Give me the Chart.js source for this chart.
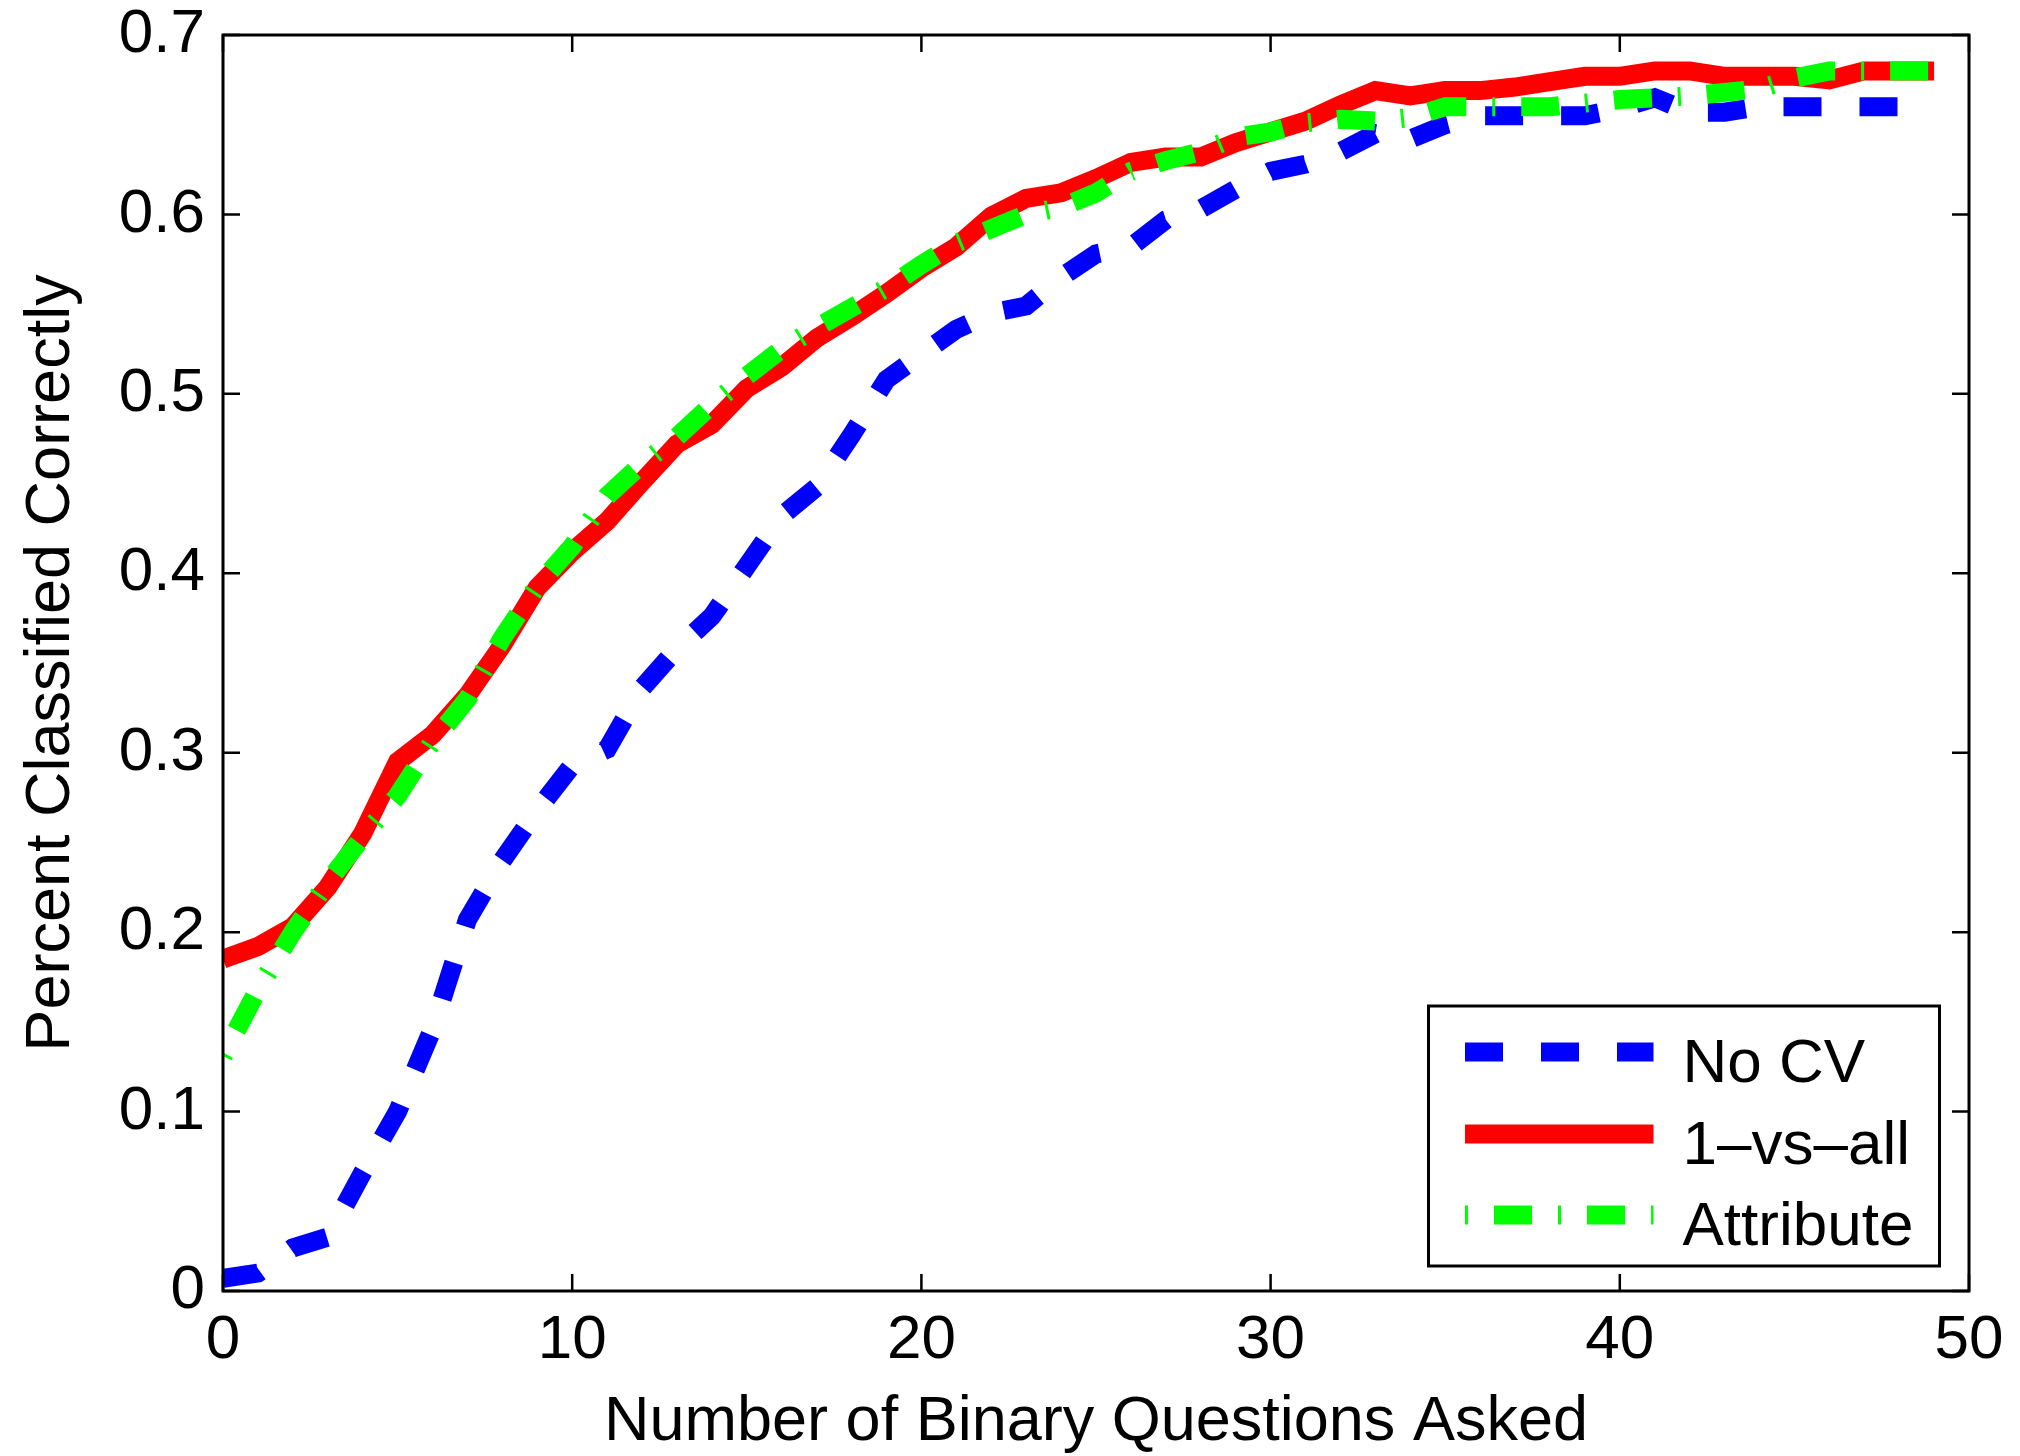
<!DOCTYPE html>
<html>
<head>
<meta charset="utf-8">
<script src="https://cdn.jsdelivr.net/npm/chart.js@4.4.1/dist/chart.umd.min.js"></script>
<style>
	html, body { margin: 0; padding: 0; background: #fff; }
	canvas { display: block; }
</style>
</head>
<body>
<canvas id="myChart" width="2020" height="1456"></canvas>
<script>
/* globals Chart:false */
// số câu hỏi nhị phân -> tỉ lệ phân loại đúng
const questions = [
	0, 1, 2, 3, 4, 5, 6, 7, 8, 9,
	10, 11, 12, 13, 14, 15, 16, 17, 18, 19,
	20, 21, 22, 23, 24, 25, 26, 27, 28, 29,
	30, 31, 32, 33, 34, 35, 36, 37, 38, 39,
	40, 41, 42, 43, 44, 45, 46, 47, 48, 49,
];
const noCv = [
	0.007, 0.010, 0.024, 0.030, 0.066, 0.100, 0.146, 0.207, 0.240, 0.268,
	0.293, 0.302, 0.336, 0.358, 0.376, 0.404, 0.432, 0.448, 0.477, 0.508,
	0.522, 0.536, 0.545, 0.549, 0.565, 0.578, 0.582, 0.597, 0.603, 0.614,
	0.624, 0.628, 0.635, 0.645, 0.642, 0.650, 0.655, 0.655, 0.655, 0.655,
	0.659, 0.665, 0.657, 0.657, 0.660, 0.660, 0.660, 0.660, 0.660, 0.660,
];
const oneVsAll = [
	0.185, 0.192, 0.203, 0.225, 0.255, 0.295, 0.310, 0.332, 0.360, 0.392,
	0.412, 0.429, 0.451, 0.472, 0.483, 0.503, 0.515, 0.531, 0.543, 0.556,
	0.570, 0.582, 0.599, 0.609, 0.612, 0.620, 0.629, 0.632, 0.632, 0.640,
	0.646, 0.652, 0.661, 0.669, 0.666, 0.669, 0.669, 0.671, 0.674, 0.677,
	0.677, 0.680, 0.680, 0.677, 0.677, 0.677, 0.675, 0.680, 0.680, 0.680,
];
const attribute = [
	0.131, 0.168, 0.200, 0.228, 0.253, 0.276, 0.306, 0.330, 0.364, 0.393,
	0.415, 0.443, 0.461, 0.476, 0.494, 0.510, 0.525, 0.537, 0.548, 0.559,
	0.572, 0.584, 0.592, 0.600, 0.604, 0.612, 0.624, 0.630, 0.635, 0.643,
	0.646, 0.651, 0.653, 0.652, 0.654, 0.660, 0.660, 0.660, 0.660, 0.662,
	0.664, 0.665, 0.666, 0.668, 0.670, 0.676, 0.680, 0.680, 0.680, 0.680,
];
const seriesNames = ["No CV", "1\u2013vs\u2013all", "Attribute"];
const xTicks = [0, 10, 20, 30, 40, 50];
const yTicks = [0, 0.1, 0.2, 0.3, 0.4, 0.5, 0.6, 0.7];

(() => {
	"use strict";

	const FONT = "Arial, 'Liberation Sans', Helvetica, sans-serif";
	const points = (vals) => vals.map((v, i) => ({ x: questions[i], y: v }));

	// khung trục + vạch chia hướng vào trong (kiểu MATLAB)
	const axesBox = {
		id: "axesBox",
		afterDatasetsDraw(chart) {
			const { ctx, chartArea: a, scales } = chart;
			const tl = 17;
			ctx.save();
			ctx.strokeStyle = "#000";
			ctx.lineWidth = 2.5;
			ctx.beginPath();
			xTicks.forEach((v) => {
				const px = scales.x.getPixelForValue(v);
				ctx.moveTo(px, a.bottom);
				ctx.lineTo(px, a.bottom - tl);
				ctx.moveTo(px, a.top);
				ctx.lineTo(px, a.top + tl);
			});
			yTicks.forEach((v) => {
				const py = scales.y.getPixelForValue(v);
				ctx.moveTo(a.left, py);
				ctx.lineTo(a.left + tl, py);
				ctx.moveTo(a.right, py);
				ctx.lineTo(a.right - tl, py);
			});
			ctx.stroke();
			ctx.lineWidth = 3;
			ctx.strokeRect(a.left, a.top, a.right - a.left, a.bottom - a.top);
			ctx.restore();
		},
	};

	// chú thích góc dưới phải
	const legendBox = {
		id: "legendBox",
		afterDraw(chart) {
			const { ctx, chartArea: a } = chart;
			const w = 511;
			const h = 260;
			const left = a.right - 29.5 - w;
			const top = a.bottom - 25 - h;
			ctx.save();
			ctx.fillStyle = "#fff";
			ctx.fillRect(left, top, w, h);
			ctx.strokeStyle = "#000";
			ctx.lineWidth = 3;
			ctx.strokeRect(left, top, w, h);
			const rows = [46, 128, 209];
			chart.data.datasets.forEach((ds, i) => {
				const yy = top + rows[i];
				ctx.save();
				ctx.strokeStyle = ds.borderColor;
				ctx.lineWidth = ds.borderWidth;
				ctx.lineCap = "butt";
				ctx.setLineDash(ds.borderDash || []);
				ctx.lineDashOffset = ds.borderDashOffset || 0;
				ctx.beginPath();
				ctx.moveTo(left + 36.5, yy);
				ctx.lineTo(left + 225, yy);
				ctx.stroke();
				ctx.restore();
				ctx.fillStyle = "#000";
				ctx.font = "62px " + FONT;
				ctx.textAlign = "left";
				ctx.textBaseline = "alphabetic";
				ctx.fillText(ds.label, left + 254, yy + 30);
			});
			ctx.restore();
		},
	};

	const ctx = document.getElementById("myChart");
	// eslint-disable-next-line no-unused-vars
	const myChart = new Chart(ctx, {
		type: "line",
		data: {
			datasets: [
				{
					label: seriesNames[0],
					data: points(noCv),
					borderColor: "#0000ff",
					borderWidth: 19,
					borderDash: [38, 38],
					order: 3,
				},
				{
					label: seriesNames[1],
					data: points(oneVsAll),
					borderColor: "#ff0000",
					borderWidth: 19,
					order: 2,
				},
				{
					label: seriesNames[2],
					data: points(attribute),
					borderColor: "#00ff00",
					borderWidth: 19,
					borderDash: [3, 26, 38, 26],
					order: 1,
				},
			],
		},
		options: {
			responsive: false,
			animation: false,
			devicePixelRatio: 1,
			layout: { padding: { left: 0, right: 51, top: 35, bottom: 0 } },
			elements: {
				point: { radius: 0, hoverRadius: 0 },
				line: {
					tension: 0,
					fill: false,
					borderCapStyle: "butt",
					borderJoinStyle: "miter",
				},
			},
			scales: {
				x: {
					type: "linear",
					min: 0,
					max: 50,
					afterBuildTicks: (scale) => {
						scale.ticks = xTicks.map((v) => ({ value: v }));
					},
					afterFit: (scale) => {
						scale.height = 165;
						scale.paddingLeft = 0;
						scale.paddingRight = 0;
					},
					grid: { display: false, drawTicks: false },
					border: { display: false },
					ticks: {
						padding: 16,
						color: "#000",
						maxRotation: 0,
						font: { family: FONT, size: 62, lineHeight: 1.1 },
						callback: (v) => String(v),
					},
					title: {
						display: true,
						text: "Number of Binary Questions Asked",
						color: "#000",
						font: { family: FONT, size: 63, lineHeight: 1.05 },
						padding: { top: 0, bottom: 0 },
					},
				},
				y: {
					type: "linear",
					min: 0,
					max: 0.7,
					afterBuildTicks: (scale) => {
						scale.ticks = yTicks.map((v) => ({ value: v }));
					},
					afterFit: (scale) => {
						scale.width = 223;
						scale.paddingTop = 0;
						scale.paddingBottom = 0;
					},
					grid: { display: false, drawTicks: false },
					border: { display: false },
					ticks: {
						padding: 18,
						color: "#000",
						font: { family: FONT, size: 62, lineHeight: 1.1 },
						callback: (v) => String(v),
					},
					title: {
						display: true,
						text: "Percent Classified Correctly",
						color: "#000",
						font: { family: FONT, size: 63, lineHeight: 1.2 },
						padding: { top: 14, bottom: 0 },
					},
				},
			},
			plugins: {
				legend: { display: false },
				tooltip: { enabled: false },
			},
		},
		plugins: [axesBox, legendBox],
	});
})();
</script>
</body>
</html>
